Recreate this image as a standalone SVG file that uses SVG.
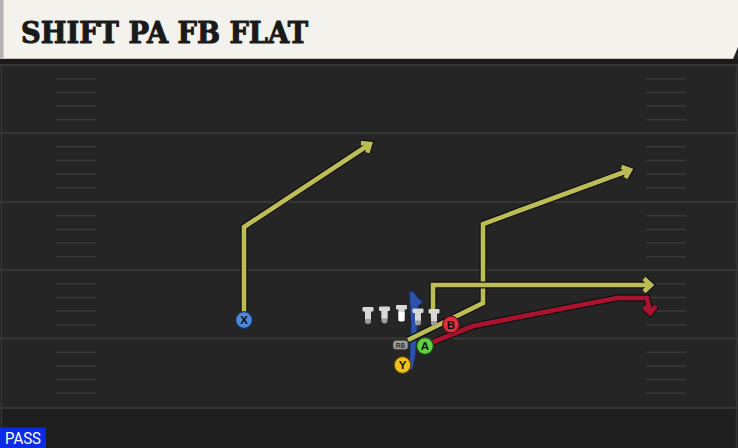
<svg xmlns="http://www.w3.org/2000/svg" width="738" height="448" viewBox="0 0 738 448">
<style>
.yl{stroke:#363636;stroke-width:2}
.hm{stroke:#3a3a3a;stroke-width:1.5}
.case{fill:none;stroke:#111;stroke-width:7;stroke-linejoin:miter}
.yr{fill:none;stroke:#bdbd56;stroke-width:4.6;stroke-linejoin:miter}
.rr{fill:none;stroke:#ab1230;stroke-width:4.6;stroke-linejoin:miter}
.lbl{font-family:"Liberation Sans",Arial,sans-serif;font-weight:bold;font-size:11.5px;fill:#111;text-anchor:middle}
.tbar{fill:#d8d8d8}
.tlow{fill:#9c9c9c}
</style>
<defs>
<g id="tman">
<rect x="-3" y="3" width="6" height="14" rx="3" class="tlow"/>
<rect x="-3" y="3" width="6" height="9" class="tbar"/>
<rect x="-5.5" y="0" width="11" height="4.5" rx="1.2" class="tbar"/>
</g>
</defs>
<!-- field -->
<rect x="0" y="0" width="738" height="448" fill="#252525"/>
<rect x="0" y="408" width="738" height="40" fill="#1e1e1e"/>
<rect x="0" y="59" width="738" height="6" fill="#1a1a1a"/>
<g id="field">
<line x1="0" y1="65" x2="738" y2="65" class="yl"/>
<line x1="0" y1="133" x2="738" y2="133" class="yl"/>
<line x1="0" y1="202" x2="738" y2="202" class="yl"/>
<line x1="0" y1="270" x2="738" y2="270" class="yl"/>
<line x1="0" y1="338.5" x2="738" y2="338.5" class="yl"/>
<line x1="0" y1="408" x2="738" y2="408" class="yl"/>
<line x1="1.5" y1="65" x2="1.5" y2="448" stroke="#363636" stroke-width="1.5"/>
<line x1="736.5" y1="65" x2="736.5" y2="448" stroke="#363636" stroke-width="1.5"/>
<g id="hashL">
<line x1="56" y1="78.7" x2="96" y2="78.7" class="hm"/>
<line x1="56" y1="92.4" x2="96" y2="92.4" class="hm"/>
<line x1="56" y1="106.1" x2="96" y2="106.1" class="hm"/>
<line x1="56" y1="119.8" x2="96" y2="119.8" class="hm"/>
<line x1="56" y1="146.7" x2="96" y2="146.7" class="hm"/>
<line x1="56" y1="160.4" x2="96" y2="160.4" class="hm"/>
<line x1="56" y1="174.1" x2="96" y2="174.1" class="hm"/>
<line x1="56" y1="187.8" x2="96" y2="187.8" class="hm"/>
<line x1="56" y1="215.7" x2="96" y2="215.7" class="hm"/>
<line x1="56" y1="229.4" x2="96" y2="229.4" class="hm"/>
<line x1="56" y1="243.1" x2="96" y2="243.1" class="hm"/>
<line x1="56" y1="256.8" x2="96" y2="256.8" class="hm"/>
<line x1="56" y1="283.7" x2="96" y2="283.7" class="hm"/>
<line x1="56" y1="297.4" x2="96" y2="297.4" class="hm"/>
<line x1="56" y1="311.1" x2="96" y2="311.1" class="hm"/>
<line x1="56" y1="324.8" x2="96" y2="324.8" class="hm"/>
<line x1="56" y1="352.2" x2="96" y2="352.2" class="hm"/>
<line x1="56" y1="365.9" x2="96" y2="365.9" class="hm"/>
<line x1="56" y1="379.6" x2="96" y2="379.6" class="hm"/>
<line x1="56" y1="393.3" x2="96" y2="393.3" class="hm"/>
</g>
<use href="#hashL" transform="translate(590,0)"/>
</g>
<!-- header -->
<g id="header">
<polygon points="0,0 738,0 738,47 733,59 0,59" fill="#f4f2ec"/>
<line x1="0" y1="58.5" x2="733" y2="58.5" stroke="#c9c6bf" stroke-width="1"/>
<rect x="0" y="0" width="3.5" height="59" fill="#b4b4b4"/>
<text x="21" y="42.5" font-family="'DejaVu Serif','Liberation Serif',serif" font-weight="bold" font-size="29" fill="#1a1a1a" stroke="#1a1a1a" stroke-width="1.1" stroke-linejoin="round" textLength="287" lengthAdjust="spacingAndGlyphs">SHIFT PA FB FLAT</text>
</g>
<!-- motion -->
<g id="motion">
<path d="M409,292 L413,291 L418,298 L423,302 L418,306 L417,330 L415.5,355 L412.5,370 L409.5,369 L410,350 L411,325 L410,305 Z" fill="#2c52ab" stroke="#152a5c" stroke-width="0.8"/>
</g>
<!-- connectors -->
<g id="connectors">
<path class="case" d="M244,312 V227 L370,144 M361,143 L370,144 L367.4,152.6"/>
<path class="yr" d="M244,312 V227 L370,144 M361,143 L370,144 L367.4,152.6"/>
<path class="case" d="M408,340 L483,303 V224 L630,170 M621.5,166.9 L630,170 L625.5,177.8"/>
<path class="yr" d="M408,340 L483,303 V224 L630,170 M621.5,166.9 L630,170 L625.5,177.8"/>
<path class="case" d="M433,318 V285 H651 M644,278.5 L651,285 L644,291.5"/>
<path class="yr" d="M433,318 V285 H651 M644,278.5 L651,285 L644,291.5"/>
<path class="case" d="M433,342 L473,326 L617,298 L647,298 L650,312 M644,307 L650,313 L656,306"/>
<path class="rr" d="M433,342 L473,326 L617,298 L647,298 L650,312 M644,307 L650,313 L656,306"/>
</g>
<!-- linemen -->
<g id="LT"><use href="#tman" transform="translate(368,307)"/></g>
<g id="LG"><use href="#tman" transform="translate(384.5,306.5)"/></g>
<g id="C">
<use href="#tman" transform="translate(401.5,305)"/>
<rect x="398.5" y="312" width="6" height="9" fill="#ffffff"/>
</g>
<g id="RG"><use href="#tman" transform="translate(418,308.5)"/></g>
<g id="RT"><use href="#tman" transform="translate(434,309)"/></g>
<!-- skill players -->
<g id="X">
<circle cx="244" cy="320" r="8.3" fill="#4c87dc" stroke="#1d3560" stroke-width="1.2"/>
<text x="244" y="324.2" class="lbl">X</text>
</g>
<g id="RB">
<rect x="393" y="340.5" width="15" height="9" rx="3" fill="#9c9c9c" stroke="#4a4a4a" stroke-width="0.8"/>
<text x="400.5" y="347.6" font-family="'Liberation Sans',Arial,sans-serif" font-weight="bold" font-size="6.5" fill="#333" text-anchor="middle">RB</text>
</g>
<g id="A">
<circle cx="425" cy="346" r="8.3" fill="#62d13f" stroke="#1f5214" stroke-width="1.2"/>
<text x="425" y="350.2" class="lbl">A</text>
</g>
<g id="B">
<circle cx="451" cy="324.5" r="8.3" fill="#e0313c" stroke="#5c0d14" stroke-width="1.2"/>
<text x="451" y="328.7" class="lbl">B</text>
</g>
<g id="Y">
<circle cx="402.5" cy="365" r="8.3" fill="#f2c11d" stroke="#5e4a08" stroke-width="1.2"/>
<text x="402.5" y="369.2" class="lbl">Y</text>
</g>
<!-- pass tag -->
<g id="pass">
<rect x="0" y="427.5" width="46" height="20.5" fill="#0b2be6"/>
<text x="5" y="444.3" font-family="Roboto,'Liberation Sans',sans-serif" font-size="16" fill="#ffffff" textLength="36" lengthAdjust="spacingAndGlyphs">PASS</text>
</g>
</svg>
